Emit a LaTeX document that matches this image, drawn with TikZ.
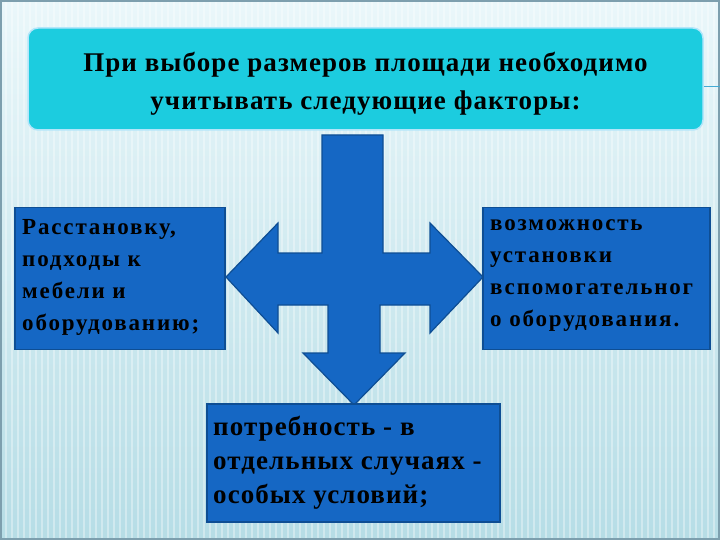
\documentclass[tikz,border=0pt]{standalone}
\usepackage{fontspec}
\setmainfont{Liberation Serif}
\begin{document}
\begin{tikzpicture}[x=1pt,y=-1pt,
  bx/.style={fill=boxblue,draw=boxedge,line width=1.2pt},
  txt/.style={anchor=north west,align=left,font=\bfseries,text=black,inner sep=0pt}]
\definecolor{boxblue}{HTML}{1567C4}
\definecolor{boxedge}{HTML}{0E4E94}
\definecolor{topc}{HTML}{1CCCDF}
\definecolor{bgA}{HTML}{EAF7FA}
\definecolor{bgB}{HTML}{B6DDE6}
\useasboundingbox (0,0) rectangle (720,540);
\shade[top color=bgA,bottom color=bgB] (0,0) rectangle (720,540);
\foreach \i in {0,6,...,720} \draw[white,opacity=0.35,line width=1.5pt] (\i,0) -- (\i,540);
\draw[gray!70!cyan,line width=2pt] (1,1) rectangle (719,539);
\draw[cyan!70!gray,line width=0.8pt] (704,86) -- (720,86);
\node[draw=cyan!30,line width=1.5pt,fill=topc,rounded corners=10pt,minimum width=675,minimum height=102,inner sep=0pt] (top) at (365.5,79) {};
\node[font=\bfseries\fontsize{27}{38}\selectfont\addfontfeatures{LetterSpace=4},align=center] (toptxt) at (365.5,84)
  {При выборе размеров площади необходимо\\учитывать следующие факторы:};
\path[bx] (322,135) -- (383,135) -- (383,253) -- (430,253) -- (430,223) -- (483,277) -- (430,333) -- (430,305)
  -- (380,305) -- (380,353) -- (405,353) -- (354,405) -- (303,353) -- (328,353) -- (328,305)
  -- (278,305) -- (278,333) -- (226,277) -- (278,223) -- (278,253) -- (322,253) -- cycle;
\node[bx,minimum width=210,minimum height=142,inner sep=0pt] (lb) at (120,278.5) {};
\node[bx,minimum width=227,minimum height=142,inner sep=0pt] (rb) at (596.5,278.5) {};
\node[bx,minimum width=293,minimum height=118,inner sep=0pt] (bb) at (353.5,463) {};
\node[txt,font=\bfseries\fontsize{23}{32}\selectfont\addfontfeatures{LetterSpace=8}] (lt) at (22,219) {Расстановку,\\подходы к\\мебели и\\оборудованию;};
\node[txt,font=\bfseries\fontsize{23}{32}\selectfont\addfontfeatures{LetterSpace=8}] (rt) at (490,219) {возможность\\установки\\вспомогательног\\о оборудования.};
\node[txt,font=\bfseries\fontsize{27}{34}\selectfont\addfontfeatures{LetterSpace=4}] (bt) at (213,416) {потребность - в\\отдельных случаях -\\особых условий;};
\end{tikzpicture}
\end{document}
